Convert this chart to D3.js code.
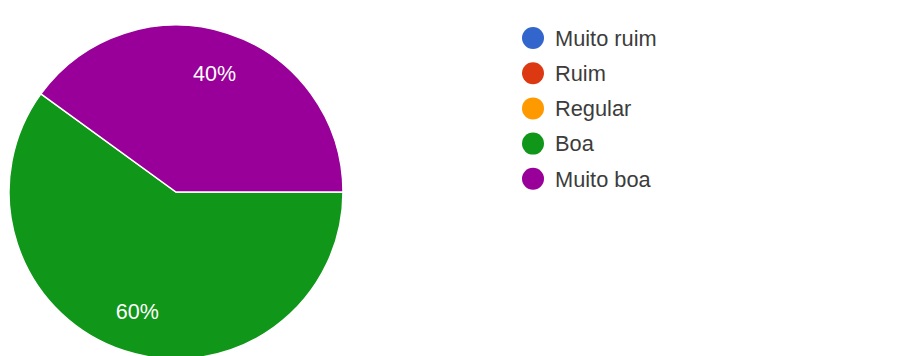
<!DOCTYPE html>
<html><head><meta charset="utf-8">
<script src="https://cdn.jsdelivr.net/npm/d3@7"></script>
<style>body{margin:0;background:#fff;} svg{display:block;}</style>
</head><body>
<svg id="c" width="911" height="356"></svg>
<script>
const categories = ["Muito ruim", "Ruim", "Regular", "Boa", "Muito boa"];
const values = [0, 0, 0, 60, 40];
const colors = ["#3366cc", "#dc3912", "#ff9900", "#109618", "#990099"];

const svg = d3.select("#c");
const cx = 176, cy = 192, R = 167;
const data = categories.map((c, i) => ({cat: c, value: values[i], color: colors[i]}));
const pie = d3.pie().value(d => d.value).sort(null)
  .startAngle(Math.PI / 2).endAngle(Math.PI / 2 + 2 * Math.PI);
const arcs = pie(data);
const arc = d3.arc().innerRadius(0).outerRadius(R);
const labelArc = d3.arc().innerRadius(125).outerRadius(125);
const total = d3.sum(values);

const g = svg.append("g").attr("transform", `translate(${cx},${cy})`);
g.selectAll("path").data(arcs.filter(a => a.value > 0)).join("path")
  .attr("d", arc).attr("fill", d => d.data.color)
  .attr("stroke", "#fff").attr("stroke-width", 1.5);
g.selectAll("text").data(arcs.filter(a => a.value > 0)).join("text")
  .attr("transform", d => `translate(${labelArc.centroid(d)})`)
  .attr("text-anchor", "middle").attr("dy", "0.36em")
  .attr("font-family", "Arial, 'Liberation Sans', sans-serif").attr("font-size", 21.5)
  .attr("fill", "#fff")
  .text(d => Math.round(d.value / total * 100) + "%");

const lg = svg.append("g").attr("transform", "translate(533,38)");
const item = lg.selectAll("g").data(data).join("g")
  .attr("transform", (d, i) => `translate(0,${i * 35.2})`);
item.append("circle").attr("r", 11).attr("fill", d => d.color);
item.append("text").attr("x", 22).attr("dy", "0.36em")
  .attr("font-family", "Arial, 'Liberation Sans', sans-serif").attr("font-size", 21.8)
  .attr("fill", "#3c3c3c").text(d => d.cat);
</script>
</body></html>
